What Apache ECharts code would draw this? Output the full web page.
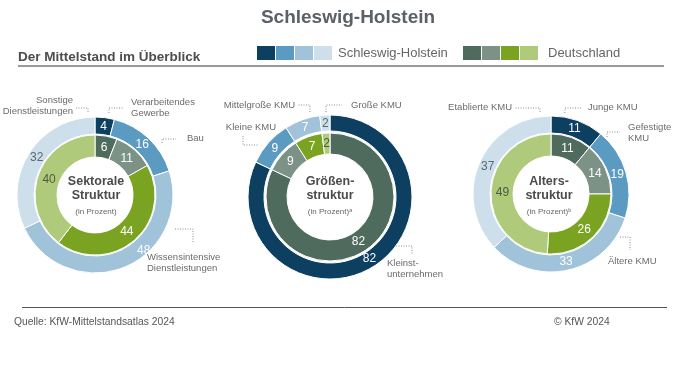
<!DOCTYPE html>
<html><head><meta charset="utf-8">
<script src="https://cdn.jsdelivr.net/npm/echarts@6/dist/echarts.min.js"></script>
<style>html,body{margin:0;padding:0;background:#fff}#c{width:696px;height:392px}</style>
</head><body><div id="c"></div>
<script>
// ---- data ----
const shColors = ['#0d3f60', '#5b9bc1', '#a0c3da', '#cddfea'];
const deColors = ['#4e6b5d', '#7c9287', '#79a320', '#afca7a'];

const sektorNames = ['Verarbeitendes\nGewerbe', 'Bau', 'Wissensintensive\nDienstleistungen', 'Sonstige\nDienstleistungen'];
const sektorSH = [4, 16, 48, 32];
const sektorDE = [6, 11, 44, 40];

const groesseNames = ['Kleinst-\nunternehmen', 'Kleine KMU', 'Mittelgroße KMU', 'Große KMU'];
const groesseSH = [82, 9, 7, 2];
const groesseDE = [82, 9, 7, 2];

const alterNames = ['Junge KMU', 'Gefestigte\nKMU', 'Ältere KMU', 'Etablierte KMU'];
const alterSH = [11, 19, 33, 37];
const alterDE = [11, 14, 26, 49];

// ---- layout (positions only) ----
const FONT = 'Liberation Sans, Arial, sans-serif';
const charts = [
  { names: sektorNames, sh: sektorSH, de: sektorDE, center: [95, 195], outer: [61, 78], inner: [38, 60],
    title: ['Sektorale', 'Struktur'], sub: '(in Prozent)', tx: 96,
    offsets: { 2: [22, -12] },
    labels: [
      { x: 131, y: 97, align: 'left', line: [[109, 113], [109, 108], [123, 108]] },
      { x: 187, y: 133, align: 'left', line: [[162, 143], [162, 139], [176, 139]] },
      { x: 147, y: 252, align: 'left', line: [[175, 229], [193, 229], [193, 243]] },
      { x: 73, y: 95, align: 'right', line: [[88, 112], [88, 108], [75, 108]] }
    ] },
  { names: groesseNames, sh: groesseSH, de: groesseDE, center: [330, 197], outer: [66, 82], inner: [43, 64],
    title: ['Größen-', 'struktur'], sub: '(in Prozent)ᵃ', tx: 330,
    offsets: {},
    labels: [
      { x: 387, y: 258, align: 'left', line: [[396, 246], [412, 246], [412, 254]] },
      { x: 276, y: 122, align: 'right', line: [[243, 136], [243, 145], [258, 145]] },
      { x: 295, y: 100, align: 'right', line: [[310, 112], [310, 105], [297, 105]] },
      { x: 351, y: 100, align: 'left', line: [[326, 112], [326, 105], [342, 105]] }
    ] },
  { names: alterNames, sh: alterSH, de: alterDE, center: [551, 194], outer: [61, 78], inner: [38, 60],
    title: ['Alters-', 'struktur'], sub: '(in Prozent)ᵇ', tx: 549,
    offsets: {},
    labels: [
      { x: 588, y: 102, align: 'left', line: [[565, 113], [565, 108], [582, 108]] },
      { x: 628, y: 122, align: 'left', line: [[607, 137], [607, 132], [620, 132]] },
      { x: 608, y: 256, align: 'left', line: [[620, 237], [630, 237], [630, 250]] },
      { x: 512, y: 102, align: 'right', line: [[540, 112], [540, 108], [515, 108]] }
    ] }
];

const INWARD = 3.5; // pull inside labels toward the ring middle

function ring(c, values, colors, radius, darkText, isOuter) {
  const total = values.reduce((a, b) => a + b, 0);
  let cum = 0;
  return {
    type: 'pie', center: c.center, radius: radius, startAngle: 90, clockwise: true,
    avoidLabelOverlap: false, silent: true, animation: false,
    itemStyle: { borderColor: '#fff', borderWidth: 1 },
    emphasis: { disabled: true },
    labelLine: { show: false },
    data: values.map((v, i) => {
      const a = 2 * Math.PI * (cum + v / 2) / total;
      cum += v;
      let off = [-INWARD * Math.sin(a), INWARD * Math.cos(a)];
      if (isOuter && c.offsets[i]) off = c.offsets[i];
      return {
        value: v, name: c.names[i],
        itemStyle: { color: colors[i] },
        label: { color: i === 3 ? darkText : '#fff', offset: off }
      };
    }),
    label: { show: true, position: 'inside', formatter: '{c}', fontSize: 12, fontFamily: FONT }
  };
}

function nameSeries(c) {
  return {
    type: 'pie', center: c.center, radius: c.outer, startAngle: 90, clockwise: true,
    avoidLabelOverlap: false, silent: true, animation: false, z: 1,
    itemStyle: { color: 'rgba(0,0,0,0)', borderWidth: 0 },
    emphasis: { disabled: true },
    data: c.sh.map((v, i) => ({ value: v, name: c.names[i] })),
    label: { show: true, position: 'outside', formatter: '{b}', fontSize: 9.5, lineHeight: 11,
      color: '#6b6b6b', fontFamily: FONT },
    labelLine: { show: true, lineStyle: { color: '#8c8c8c', width: 1, type: [1, 1.5] } },
    labelLayout: function (p) {
      const l = c.labels[p.dataIndex];
      return { x: l.x, y: l.y, align: l.align, verticalAlign: 'top', labelLinePoints: l.line, hideOverlap: false };
    }
  };
}

const series = [];
charts.forEach(c => {
  series.push(ring(c, c.sh, shColors, c.outer, '#5a6878', true));
  series.push(ring(c, c.de, deColors, c.inner, '#4f5a42', false));
  series.push(nameSeries(c));
});

const graphic = [
  { type: 'text', x: 348, y: 18, style: { text: 'Schleswig-Holstein', fill: '#5b6166', font: 'bold 19px ' + FONT, textAlign: 'center', textVerticalAlign: 'middle' } },
  { type: 'text', x: 18, y: 57, style: { text: 'Der Mittelstand im Überblick', fill: '#4d4d4d', font: 'bold 13.5px ' + FONT, textVerticalAlign: 'middle' } },
  { type: 'line', shape: { x1: 18, y1: 66, x2: 664, y2: 66 }, style: { stroke: '#9a9a9a', lineWidth: 2 } },
  { type: 'line', shape: { x1: 22, y1: 307.5, x2: 667, y2: 307.5 }, style: { stroke: '#555', lineWidth: 1 } },
  { type: 'text', x: 14, y: 322, style: { text: 'Quelle: KfW-Mittelstandsatlas 2024', fill: '#555', font: '10.3px ' + FONT, textVerticalAlign: 'middle' } },
  { type: 'text', x: 554, y: 322, style: { text: '© KfW 2024', fill: '#555', font: '10.3px ' + FONT, textVerticalAlign: 'middle' } },
  { type: 'text', x: 338, y: 53, style: { text: 'Schleswig-Holstein', fill: '#666', font: '13px ' + FONT, textVerticalAlign: 'middle' } },
  { type: 'text', x: 548, y: 53, style: { text: 'Deutschland', fill: '#666', font: '13px ' + FONT, textVerticalAlign: 'middle' } }
];
shColors.forEach((col, i) => graphic.push({ type: 'rect', shape: { x: 257 + i * 19, y: 46, width: 18, height: 14 }, style: { fill: col } }));
deColors.forEach((col, i) => graphic.push({ type: 'rect', shape: { x: 463 + i * 19, y: 46, width: 18, height: 14 }, style: { fill: col } }));
charts.forEach(c => {
  graphic.push({ type: 'text', x: c.tx, y: 182, style: { text: c.title[0], fill: '#4b4b4b', font: 'bold 12.5px ' + FONT, textAlign: 'center', textVerticalAlign: 'middle' } });
  graphic.push({ type: 'text', x: c.tx, y: 196, style: { text: c.title[1], fill: '#4b4b4b', font: 'bold 12.5px ' + FONT, textAlign: 'center', textVerticalAlign: 'middle' } });
  graphic.push({ type: 'text', x: c.tx, y: 212, style: { text: c.sub, fill: '#666', font: '8px ' + FONT, textAlign: 'center', textVerticalAlign: 'middle' } });
});

const chart = echarts.init(document.getElementById('c'), null, { renderer: 'canvas' });
chart.setOption({ animation: false, backgroundColor: '#fff', series: series, graphic: graphic });
</script>
</body></html>
